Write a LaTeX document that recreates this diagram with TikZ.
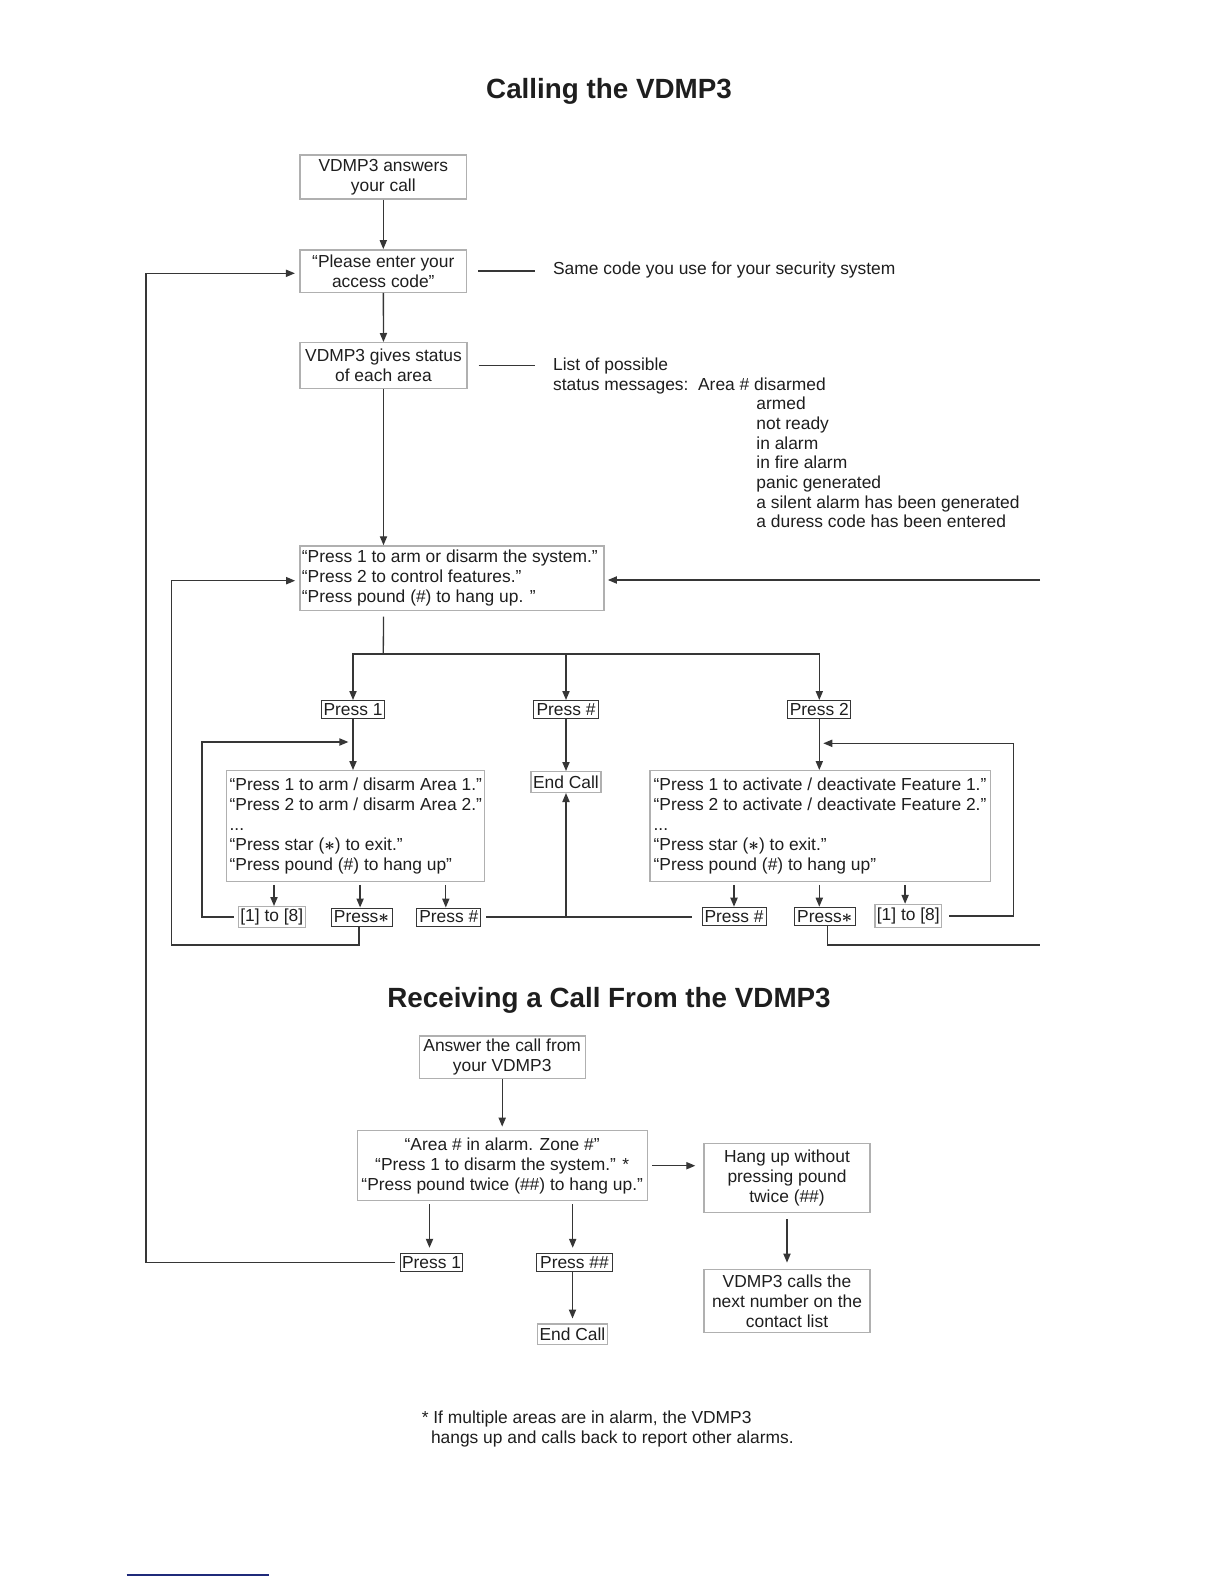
\documentclass[tikz,border=0pt]{standalone}
\usepackage{fontspec}
\setmainfont{Liberation Sans}
\usetikzlibrary{arrows.meta}
\definecolor{boxgray}{HTML}{B0B0B0}
\definecolor{darkline}{HTML}{363636}
\definecolor{txt}{HTML}{1E1E1E}
\definecolor{ruleblue}{HTML}{1F2A7A}
\begin{document}
\begin{tikzpicture}[x=0.5pt,y=-0.5pt,
 every node/.style={text=txt, font=\fontsize{8.7pt}{10pt}\selectfont, inner sep=0pt},
 bigbox/.style={draw=boxgray, line width=0.7pt, align=center},
 plainbox/.style={draw=boxgray, line width=0.7pt},
 boxtext/.style={anchor=west, align=left},
 keybox/.style={draw=darkline, line width=0.5pt, inner xsep=0.8pt, minimum height=9pt},
 lightkey/.style={draw=boxgray, line width=0.7pt, inner xsep=1pt},
 conn/.style={draw=darkline, line width=0.65pt},
 arr/.style={conn, -{Triangle[length=4.5pt,width=3.6pt]}},
 titletext/.style={font=\fontsize{13.9pt}{16pt}\selectfont\bfseries}
]
\useasboundingbox (0,0) rectangle (1224,1584);

% ---------- Calling the VDMP3 ----------
\node[titletext, anchor=base] (title1) at (609,98.3) {Calling the VDMP3};

\node[bigbox, minimum width=83.3pt, minimum height=22pt] (answers) at (383.3,177) {VDMP3 answers\\your call};
\node[bigbox, minimum width=83.3pt, minimum height=21.2pt] (access) at (383.3,271) {“Please enter your\\access code”};
\node[bigbox, minimum width=83.5pt, minimum height=22.8pt] (status) at (383.5,365.5) {VDMP3 gives status\\of each area};

\node[anchor=base west] (samecode) at (552.7,274.5) {Same code you use for your security system};
\node[anchor=base west] (listA) at (552.7,370.5) {List of possible};
\node[anchor=base west] (listB) at (552.7,390.2) {status messages:};
\node[anchor=base west] (listC) at (697.7,390.2) {Area \# disarmed};
\foreach \t/\yy [count=\i] in {armed/409.8, not ready/429.5, in alarm/449.1, in fire alarm/468.8, panic generated/488.5, a silent alarm has been generated/508.1, a duress code has been entered/527.8}
  \node[anchor=base west] (st\i) at (756,\yy) {\t};

\draw[conn] ([xshift=5.5pt]access.east) -- ([xshift=-8.8pt]access.east -| samecode.west);
\draw[conn] ([xshift=5.5pt]status.east) -- ([xshift=-8.8pt]status.east -| listA.west);

\node[plainbox, minimum width=152.15pt, minimum height=32.35pt] (menu) at (452,578.3) {};
\node[boxtext] (menutext) at ([xshift=1.2pt]menu.west) {“Press 1 to arm or disarm the system.”\\“Press 2 to control features.”\\“Press pound (\#) to hang up. ”};

\draw[arr] (answers) -- (access);
\draw[arr] (access) -- (status);
\draw[arr] (status.south) -- (status.south |- menu.north);

\node[keybox, minimum width=30.3pt] (press1a) at (353,709.5) {Press 1};
\node[keybox, minimum width=32.7pt] (presshash) at (566,709.5) {Press \#};
\node[keybox, minimum width=31.5pt] (press2) at (819.3,709.5) {Press 2};

\coordinate (split) at (383.3,654);
\draw[conn] ([yshift=-2.65pt]status.south |- menu.south) -- (split);
\draw[arr] (split) -| (press1a.north);
\draw[arr] (split) -| (presshash.north);
\draw[arr] (split) -| (press2.north);

\node[plainbox, minimum width=129pt, minimum height=55.3pt] (areabox) at (355.7,826) {};
\node[boxtext] (areatext) at ([xshift=1.6pt]areabox.west) {“Press 1 to arm / disarm Area 1.”\\“Press 2 to arm / disarm Area 2.”\\...\\“Press star ({\boldmath$\ast$}) to exit.”\\“Press pound (\#) to hang up”};

\node[plainbox, minimum width=170.35pt, minimum height=55.3pt] (featbox) at (820.3,826) {};
\node[boxtext] (feattext) at ([xshift=2pt]featbox.west) {“Press 1 to activate / deactivate Feature 1.”\\“Press 2 to activate / deactivate Feature 2.”\\...\\“Press star ({\boldmath$\ast$}) to exit.”\\“Press pound (\#) to hang up”};

\node[lightkey, minimum width=34.8pt, minimum height=10.3pt] (endcall) at (566,782) {End Call};

\draw[arr] (press1a.south) -- (press1a.south |- areabox.north);
\draw[arr] (presshash.south) -- (endcall.north);
\draw[arr] (press2.south) -- (press2.south |- featbox.north);

% bottom row
\node[lightkey, minimum width=32.5pt, minimum height=10.3pt] (rangeA) at (271.8,917) {[1] to [8]};
\node[keybox, minimum width=30.5pt] (starA) at (361.5,917) {Press{\boldmath$\ast$}};
\node[keybox, minimum width=32.1pt] (hashA) at (448.8,917) {Press \#};
\node[keybox, minimum width=32pt] (hashB) at (734,916.2) {Press \#};
\node[keybox, minimum width=30.5pt] (starB) at (824.8,916.2) {Press{\boldmath$\ast$}};
\node[lightkey, minimum width=33.3pt, minimum height=11.5pt] (rangeB) at (908.3,916) {[1] to [8]};

\draw[arr] ([xshift=1.1pt,yshift=-1.4pt]rangeA.north |- areabox.south) -- ([xshift=1.1pt]rangeA.north);
\draw[arr] ([xshift=-0.7pt,yshift=-1.4pt]starA.north |- areabox.south) -- ([xshift=-0.7pt]starA.north);
\draw[arr] ([xshift=-1.5pt,yshift=-1.4pt]hashA.north |- areabox.south) -- ([xshift=-1.5pt]hashA.north);
\draw[arr] ([yshift=-1.4pt]hashB.north |- featbox.south) -- (hashB.north);
\draw[arr] ([xshift=-2.75pt,yshift=-1.4pt]starB.north |- featbox.south) -- ([xshift=-2.75pt]starB.north);
\draw[arr] ([xshift=-1.6pt,yshift=-1.4pt]rangeB.north |- featbox.south) -- ([xshift=-1.6pt]rangeB.north);

% loops
\coordinate (fbA1) at (202,742);
\draw[arr] ([xshift=-2pt]rangeA.west) -| (fbA1) -- ([xshift=-2.3pt]press1a.south |- fbA1);

\draw[conn] ([xshift=2.5pt]hashA.east) -- ([xshift=-5pt]hashB.west |- hashA.east);
\coordinate (joinE) at (endcall.south |- hashA.east);
\draw[arr] (joinE) -- (endcall.south);

\coordinate (fbC1) at (1013.3,743.3);
\draw[arr] ([xshift=3.3pt]rangeB.east) -| (fbC1) -- ([xshift=2pt]press2.south |- fbC1);

\coordinate (loopA1) at (171.5,945);
\draw[arr] ([xshift=-1.25pt]starA.south) |- (loopA1) |- ([xshift=-2pt,yshift=-1.2pt]menu.west);

\coordinate (loopB1) at (1040,945);
\draw[conn] ([xshift=1.25pt]starB.south) |- (loopB1);
\coordinate (loopB2) at (1040,580);
\draw[arr] (loopB2) -- ([xshift=1.5pt]menu.east |- loopB2);

% ---------- Receiving a Call ----------
\node[titletext, anchor=base] (title2) at (609,1007) {Receiving a Call From the VDMP3};

\node[bigbox, minimum width=83pt, minimum height=21.2pt] (answer2) at (502.2,1057.2) {Answer the call from\\your VDMP3};
\node[bigbox, minimum width=145pt, minimum height=35pt] (alarm) at (502.2,1165.7) {“Area \# in alarm. Zone \#”\\“Press 1 to disarm the system.” *\\“Press pound twice (\#\#) to hang up.”};
\node[bigbox, minimum width=83pt, minimum height=34.7pt] (hangup) at (787,1178) {Hang up without\\pressing pound\\twice (\#\#)};
\node[bigbox, minimum width=83pt, minimum height=31.7pt] (nextnum) at (787,1301) {VDMP3 calls the\\next number on the\\contact list};
\node[keybox, minimum width=29.2pt] (press1b) at (431.5,1262.3) {Press 1};
\node[keybox, minimum width=37.8pt] (presshh) at (574.5,1262.3) {Press \#\#};
\node[lightkey, minimum width=34.8pt, minimum height=10.2pt] (endcall2) at (572.5,1334) {End Call};

\draw[arr] (answer2) -- ([yshift=1.7pt]alarm.north);
\draw[arr] ([xshift=2.2pt]alarm.east) -- ([xshift=-4pt]hangup.west |- alarm.east);
\draw[arr] ([yshift=-3pt]hangup.south) -- ([yshift=3pt]nextnum.north);
\draw[arr] ([xshift=-1pt,yshift=-1.3pt]press1b.north |- alarm.south) -- ([xshift=-1pt,yshift=2.5pt]press1b.north);
\draw[arr] ([xshift=-0.9pt,yshift=-1.3pt]presshh.north |- alarm.south) -- ([xshift=-0.9pt,yshift=2.5pt]presshh.north);
\draw[arr] (presshh.south -| endcall2.north) -- ([yshift=2.3pt]endcall2.north);

\coordinate (loopO1) at (146,1262.3);
\draw[arr] ([xshift=-2.4pt]press1b.west) -- (loopO1) |- ([xshift=-2.2pt,yshift=-1.15pt]access.west);

% footnote
\node[anchor=base west] (fn1) at (421.4,1423) {* If multiple areas are in alarm, the VDMP3};
\node[anchor=base west] (fn2) at (430.6,1443.5) {hangs up and calls back to report other alarms.};

\draw[ruleblue, line width=1.1pt] (126.7,1575) -- (269,1575);
\end{tikzpicture}
\end{document}
